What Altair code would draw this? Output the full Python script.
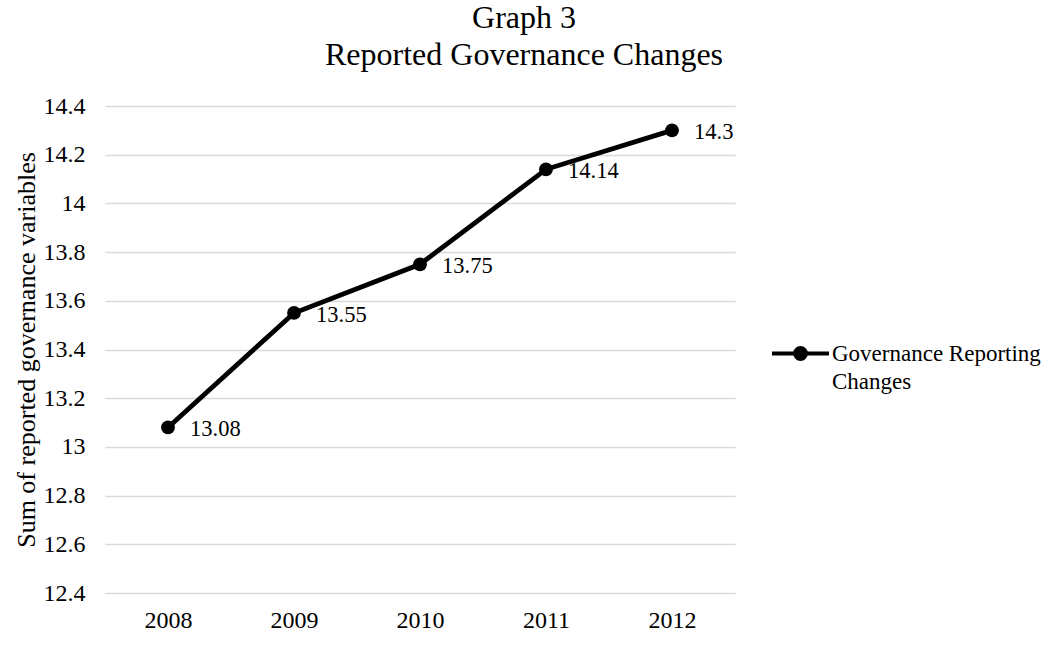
import altair as alt
import pandas as pd

years = ["2008", "2009", "2010", "2011", "2012"]
values = [13.08, 13.55, 13.75, 14.14, 14.3]
series = ["Governance Reporting Changes"] * 5
y_ticks = [12.4, 12.6, 12.8, 13.0, 13.2, 13.4, 13.6, 13.8, 14.0, 14.2, 14.4]

df = pd.DataFrame({"year": years, "value": values, "series": series})

FONT = "Liberation Serif"

x = alt.X("year:N", title=None,
          scale=alt.Scale(paddingInner=0, paddingOuter=0),
          axis=alt.Axis(labelAngle=0, labelFontSize=24, labelFont=FONT, labelColor="#000000",
                        ticks=False, domain=False, labelPadding=15, grid=False))
y = alt.Y("value:Q", title="Sum of reported governance variables",
          scale=alt.Scale(domain=[12.4, 14.4], nice=False, zero=False),
          axis=alt.Axis(values=y_ticks, format=".3~g", labelFontSize=24, labelFont=FONT,
                        labelColor="#000000", ticks=False, domain=False, labelPadding=20,
                        grid=True, gridColor="#d9d9d9", gridWidth=1.5,
                        titleFontSize=26, titleFont=FONT, titleFontWeight="normal",
                        titleColor="#000000", titlePadding=4))

sym = ("M-1,0L1,0M-0.19,0A0.19,0.19,0,1,1,0.19,0"
       "A0.19,0.19,0,1,1,-0.19,0Z")

color = alt.Color("series:N", scale=alt.Scale(range=["#000000"]),
                  legend=alt.Legend(title=None, orient="none", legendX=665, legendY=217,
                                    symbolType=sym, symbolSize=3249, symbolStrokeWidth=4,
                                    symbolFillColor="#000000", symbolStrokeColor="#000000",
                                    labelFont=FONT, labelFontSize=23, labelColor="#000000",
                                    labelBaseline="middle", labelOffset=1, labelLimit=400,
                                    padding=0,
                                    labelExpr="[slice(datum.label, 0, 20), slice(datum.label, 21)]"))

base = alt.Chart(df)
line = base.mark_line(strokeWidth=4.8).encode(x=x, y=y, color=color)
points = base.mark_point(filled=True, size=190, opacity=1).encode(x=x, y=y, color=color)
labels = base.mark_text(align="left", baseline="middle", dx=22, dy=2, fontSize=22.5,
                        font=FONT, color="#000000").encode(
    x=x, y=y, text=alt.Text("value:Q", format=".4~g"))

chart = alt.layer(line, points, labels).properties(
    width=630, height=487,
    autosize=alt.AutoSizeParams(type="none"),
    padding={"left": 105, "top": 106, "right": 319, "bottom": 52},
    title=alt.Title(["Graph 3", "Reported Governance Changes"], font=FONT, fontSize=32,
                    fontWeight="normal", color="#000000", anchor="middle", frame="group",
                    dx=104, offset=22, lineHeight=37),
    background="#ffffff",
).configure(style={"guide-label": {"lineHeight": 28}}).configure_view(stroke=None)

chart.save("out.html", embed_options={"renderer": "svg", "actions": False})
